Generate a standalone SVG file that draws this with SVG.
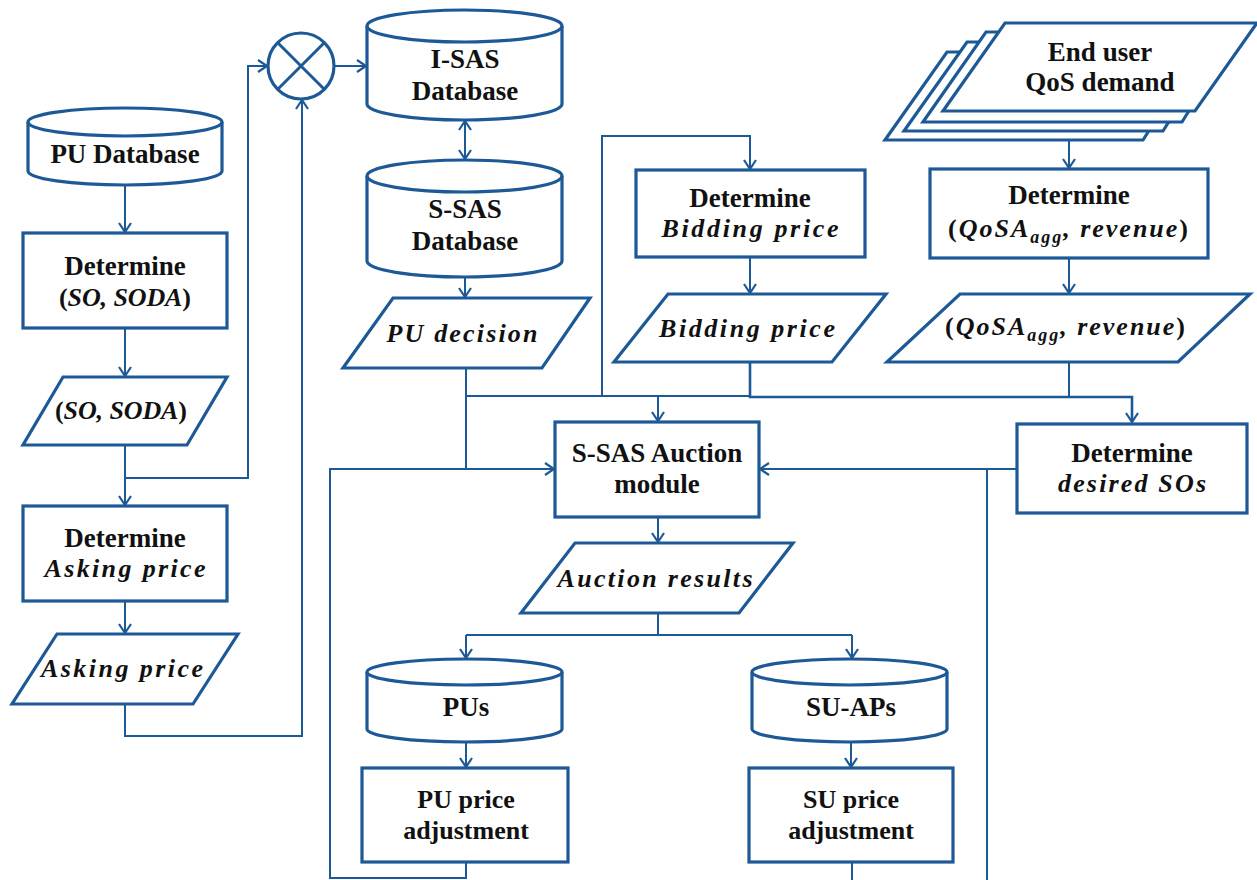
<svg xmlns="http://www.w3.org/2000/svg" width="1257" height="880" viewBox="0 0 1257 880">
<defs>
<marker id="arr" markerUnits="userSpaceOnUse" markerWidth="20" markerHeight="20" refX="10" refY="10" orient="auto">
<path d="M1,4 L10,10 L1,16" fill="none" stroke="#1d5996" stroke-width="2.2"/>
</marker>
<marker id="arrs" markerUnits="userSpaceOnUse" markerWidth="20" markerHeight="20" refX="10" refY="10" orient="auto-start-reverse">
<path d="M1,4 L10,10 L1,16" fill="none" stroke="#1d5996" stroke-width="2.2"/>
</marker>
</defs>
<style>
.s{fill:#fff;stroke:#1d5996;stroke-width:3.2;stroke-linejoin:miter}
.c{fill:none;stroke:#1d5996;stroke-width:2}
.t{font-family:"Liberation Serif","Times New Roman",serif;font-weight:bold;font-size:27px;fill:#111;text-anchor:middle}
.m{font-family:"Liberation Serif","Times New Roman",serif;font-weight:bold;font-style:italic;font-size:26px;fill:#111;text-anchor:middle}
.u{font-style:normal}
.sub{font-size:18px}
.n{font-size:26px}
</style>
<rect width="1257" height="880" fill="#fff"/>

<g id="connectors">
<path class="c" d="M125,186 V232" marker-end="url(#arr)"/>
<path class="c" d="M125,329 V376" marker-end="url(#arr)"/>
<path class="c" d="M125,446 V505" marker-end="url(#arr)"/>
<path class="c" d="M125,478 H248 V66 H267" marker-end="url(#arr)"/>
<path class="c" d="M125,602 V633" marker-end="url(#arr)"/>
<path class="c" d="M125,705 V736 H302 V100" marker-end="url(#arr)"/>
<path class="c" d="M335,66 H366" marker-end="url(#arr)"/>
<path class="c" d="M465,121 V159" marker-start="url(#arrs)" marker-end="url(#arr)"/>
<path class="c" d="M465,278 V297" marker-end="url(#arr)"/>
<path class="c" d="M466,369 V469 H554" marker-end="url(#arr)"/>
<path class="c" d="M466,396 H750"/>
<path class="c" d="M658,396 V421" marker-end="url(#arr)"/>
<path class="c" d="M602,396 V136 H750 V169" marker-end="url(#arr)"/>
<path class="c" style="stroke-width:2.6" d="M750,363 V397 H1132 V422" marker-end="url(#arr)"/>
<path class="c" d="M1069,363 V397"/>
<path class="c" d="M750,258 V293" marker-end="url(#arr)"/>
<path class="c" d="M1069,112 V168" marker-end="url(#arr)"/>
<path class="c" d="M1069,259 V293" marker-end="url(#arr)"/>
<path class="c" d="M1016,469 H760" marker-end="url(#arr)"/>
<path class="c" d="M987,469 V880"/>
<path class="c" d="M658,518 V542" marker-end="url(#arr)"/>
<path class="c" d="M658,614 V635"/>
<path class="c" d="M466,635 H852"/>
<path class="c" d="M466,635 V658" marker-end="url(#arr)"/>
<path class="c" d="M852,635 V658" marker-end="url(#arr)"/>
<path class="c" d="M466,743 V767" marker-end="url(#arr)"/>
<path class="c" d="M851,743 V767" marker-end="url(#arr)"/>
<path class="c" d="M466,863 V878 H330 V469 H466"/>
<path class="c" d="M852,863 V880"/>
</g>

<g id="pu-database">
<path class="s" d="M28,122 A97,14 0 0 1 222,122 V171 A97,14 0 0 1 28,171 Z"/>
<path class="s" style="fill:none" d="M28,122 A97,14 0 0 0 222,122"/>
<text class="t" x="125" y="163">PU Database</text>
</g>

<g id="determine-so-soda">
<rect class="s" x="23" y="233" width="204" height="95"/>
<text class="t" x="125" y="275">Determine</text>
<text class="m" x="125" y="306" textLength="132" lengthAdjust="spacing"><tspan class="u">(</tspan>SO, SODA<tspan class="u">)</tspan></text>
</g>

<g id="so-soda">
<polygon class="s" points="63,377 227,377 187,445 23,445"/>
<text class="m" x="121" y="419" textLength="132" lengthAdjust="spacing"><tspan class="u">(</tspan>SO, SODA<tspan class="u">)</tspan></text>
</g>

<g id="determine-asking-price">
<rect class="s" x="23" y="506" width="204" height="95"/>
<text class="t" x="125" y="547">Determine</text>
<text class="m" x="125" y="577" textLength="161" lengthAdjust="spacing">Asking price</text>
</g>

<g id="asking-price">
<polygon class="s" points="57,634 238,634 193,704 12,704"/>
<text class="m" x="122" y="677" textLength="162" lengthAdjust="spacing">Asking price</text>
</g>

<g id="multiplier">
<circle class="s" cx="301" cy="66" r="33"/>
<path class="c" style="stroke-width:3" d="M278,43 L324,89 M324,43 L278,89"/>
</g>

<g id="i-sas-database">
<path class="s" d="M367,26 A97.5,16 0 0 1 562,26 V104 A97.5,16 0 0 1 367,104 Z"/>
<path class="s" style="fill:none" d="M367,26 A97.5,16 0 0 0 562,26"/>
<text class="t" x="465" y="68">I-SAS</text>
<text class="t" x="465" y="100">Database</text>
</g>

<g id="s-sas-database">
<path class="s" d="M367,176 A97.5,16 0 0 1 562,176 V261 A97.5,16 0 0 1 367,261 Z"/>
<path class="s" style="fill:none" d="M367,176 A97.5,16 0 0 0 562,176"/>
<text class="t" x="465" y="218">S-SAS</text>
<text class="t" x="465" y="250">Database</text>
</g>

<g id="pu-decision">
<polygon class="s" points="393,298 590,298 542,368 343,368"/>
<text class="m" x="462" y="342" textLength="151" lengthAdjust="spacing">PU decision</text>
</g>

<g id="end-user-qos-demand">
<polygon class="s" points="947,52 1199,52 1143,140 885,140"/>
<polygon class="s" points="967,42 1219,42 1163,131 904,131"/>
<polygon class="s" points="986,32 1238,32 1182,122 923,122"/>
<polygon class="s" points="1005,23 1257,23 1195,111 943,111"/>
<text class="t" x="1100" y="61">End user</text>
<text class="t" x="1100" y="91">QoS demand</text>
</g>

<g id="determine-bidding-price">
<rect class="s" x="636" y="170" width="229" height="87"/>
<text class="t" x="750" y="207">Determine</text>
<text class="m" x="750" y="237" textLength="177" lengthAdjust="spacing">Bidding price</text>
</g>

<g id="bidding-price">
<polygon class="s" points="668,294 886,294 832,362 614,362"/>
<text class="m" x="747" y="337" textLength="176" lengthAdjust="spacing">Bidding price</text>
</g>

<g id="determine-qosa-revenue">
<rect class="s" x="930" y="169" width="278" height="89"/>
<text class="t" x="1069" y="204">Determine</text>
<text class="m" x="1068" y="237" textLength="240" lengthAdjust="spacing"><tspan class="u">(</tspan>QoSA<tspan class="sub" dy="6">agg</tspan><tspan dy="-6">, revenue</tspan><tspan class="u">)</tspan></text>
</g>

<g id="qosa-revenue">
<polygon class="s" points="960,294 1250,294 1178,362 887,362"/>
<text class="m" x="1065" y="335" textLength="240" lengthAdjust="spacing"><tspan class="u">(</tspan>QoSA<tspan class="sub" dy="6">agg</tspan><tspan dy="-6">, revenue</tspan><tspan class="u">)</tspan></text>
</g>

<g id="s-sas-auction-module">
<rect class="s" x="555" y="422" width="204" height="95"/>
<text class="t" x="657" y="462">S-SAS Auction</text>
<text class="t" x="657" y="493">module</text>
</g>

<g id="determine-desired-sos">
<rect class="s" x="1017" y="424" width="230" height="89"/>
<text class="t" x="1132" y="462">Determine</text>
<text class="m" x="1132" y="492" textLength="148" lengthAdjust="spacing">desired SOs</text>
</g>

<g id="auction-results">
<polygon class="s" points="575,543 793,543 739,613 521,613"/>
<text class="m" x="655" y="587" textLength="195" lengthAdjust="spacing">Auction results</text>
</g>

<g id="pus">
<path class="s" d="M367,672 A97.5,13 0 0 1 562,672 V729 A97.5,13 0 0 1 367,729 Z"/>
<path class="s" style="fill:none" d="M367,672 A97.5,13 0 0 0 562,672"/>
<text class="t" x="466" y="716">PUs</text>
</g>

<g id="su-aps">
<path class="s" d="M752,672 A97.5,13 0 0 1 947,672 V729 A97.5,13 0 0 1 752,729 Z"/>
<path class="s" style="fill:none" d="M752,672 A97.5,13 0 0 0 947,672"/>
<text class="t" x="851" y="716">SU-APs</text>
</g>

<g id="pu-price-adjustment">
<rect class="s" x="362" y="768" width="206" height="94"/>
<text class="t n" x="466" y="808">PU price</text>
<text class="t n" x="466" y="839">adjustment</text>
</g>

<g id="su-price-adjustment">
<rect class="s" x="749" y="768" width="204" height="94"/>
<text class="t n" x="851" y="808">SU price</text>
<text class="t n" x="851" y="839">adjustment</text>
</g>
</svg>
